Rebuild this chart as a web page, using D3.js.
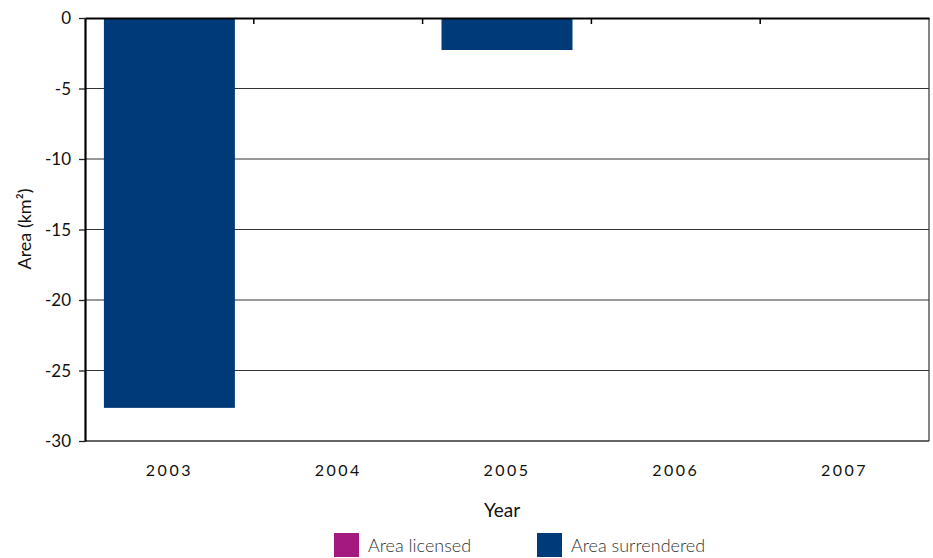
<!DOCTYPE html>
<html><head><meta charset="utf-8">
<script src="https://cdn.jsdelivr.net/npm/d3@7"></script>
<style>body{margin:0;background:#fff}svg{display:block}text{font-family:Lato,"Open Sans",sans-serif}</style>
</head><body><svg id="c" width="933" height="558"></svg>
<script>
const years = ["2003","2004","2005","2006","2007"];
const areaLicensed = [0,0,0,0,0];
const areaSurrendered = [-27.65,0,-2.27,0,0];
const yTicks = [0,-5,-10,-15,-20,-25,-30];
const seriesNames = ["Area licensed","Area surrendered"];
const seriesColors = ["#A3197F","#003A78"];

const svg = d3.select("#c");
const m = {l:85, r:929, t:18, b:441};
const x = d3.scaleBand().domain(years).range([m.l,m.r]).padding(0);
const y = d3.scaleLinear().domain([-30,0]).range([m.b,m.t]);
const bw = x.bandwidth()*0.776, off = (x.bandwidth()-bw)/2;

// gridlines
svg.append("g").selectAll("line").data(yTicks.filter(t=>t!==0 && t!==-30)).join("line")
  .attr("x1",m.l).attr("x2",m.r).attr("y1",d=>y(d)).attr("y2",d=>y(d))
  .attr("stroke","#333").attr("stroke-width",1.2);

// bars
svg.append("g").selectAll("rect").data(years.map((yr,i)=>({yr,v:areaSurrendered[i]}))).join("rect")
  .attr("x",d=>x(d.yr)+off).attr("width",bw)
  .attr("y",d=>y(Math.max(0,d.v))).attr("height",d=>Math.abs(y(d.v)-y(0)))
  .attr("fill",seriesColors[1]);
svg.append("g").selectAll("rect").data(years.map((yr,i)=>({yr,v:areaLicensed[i]}))).join("rect")
  .attr("x",d=>x(d.yr)+off).attr("width",bw)
  .attr("y",d=>y(Math.max(0,d.v))).attr("height",d=>Math.abs(y(d.v)-y(0)))
  .attr("fill",seriesColors[0]);

// frame
svg.append("line").attr("x1",m.r).attr("x2",m.r).attr("y1",m.t).attr("y2",m.b).attr("stroke","#333").attr("stroke-width",1.2);
svg.append("line").attr("x1",m.l).attr("x2",m.r).attr("y1",m.b).attr("y2",m.b).attr("stroke","#333").attr("stroke-width",1.5);

// y axis
const ya = svg.append("g").attr("transform",`translate(${m.l},0)`)
  .call(d3.axisLeft(y).tickValues(yTicks).tickSize(6).tickSizeOuter(0).tickPadding(8).tickFormat(d=>String(d)));
ya.select(".domain").attr("stroke","#000").attr("stroke-width",2.2);
ya.selectAll(".tick line").attr("stroke","#222").attr("stroke-width",1.3);
ya.selectAll(".tick text").attr("font-size",17).attr("fill","#111").attr("font-family","Lato, sans-serif").attr("dy","0.35em");

// zero line with boundary ticks
const za = svg.append("g").attr("transform",`translate(0,${y(0)})`)
  .call(d3.axisBottom(x).tickSize(0).tickFormat(""));
za.select(".domain").attr("stroke","#000").attr("stroke-width",2.2);
svg.append("g").selectAll("line").data(years.slice(1)).join("line")
  .attr("x1",d=>x(d)).attr("x2",d=>x(d)).attr("y1",y(0)).attr("y2",y(0)+6)
  .attr("stroke","#000").attr("stroke-width",1.5);

// x labels
svg.append("g").selectAll("text").data(years).join("text")
  .attr("x",d=>x(d)+x.bandwidth()/2).attr("y",476).attr("text-anchor","middle")
  .attr("font-size",16).attr("letter-spacing","2.5px").attr("fill","#111").text(d=>d);

svg.append("text").attr("x",502).attr("y",517).attr("text-anchor","middle").attr("font-size",19).attr("fill","#111").text("Year");
svg.append("text").attr("transform","translate(31,229) rotate(-90)").attr("text-anchor","middle").attr("font-size",18).attr("fill","#111").text("Area (km²)");

// legend
const lg = [{x:334},{x:537}];
lg.forEach((p,i)=>{
  svg.append("rect").attr("x",p.x).attr("y",533).attr("width",25).attr("height",24).attr("fill",seriesColors[i]);
  svg.append("text").attr("x",p.x+34).attr("y",552).attr("font-size",18).attr("font-weight",300).attr("fill","#333").text(seriesNames[i]);
});
</script></body></html>
